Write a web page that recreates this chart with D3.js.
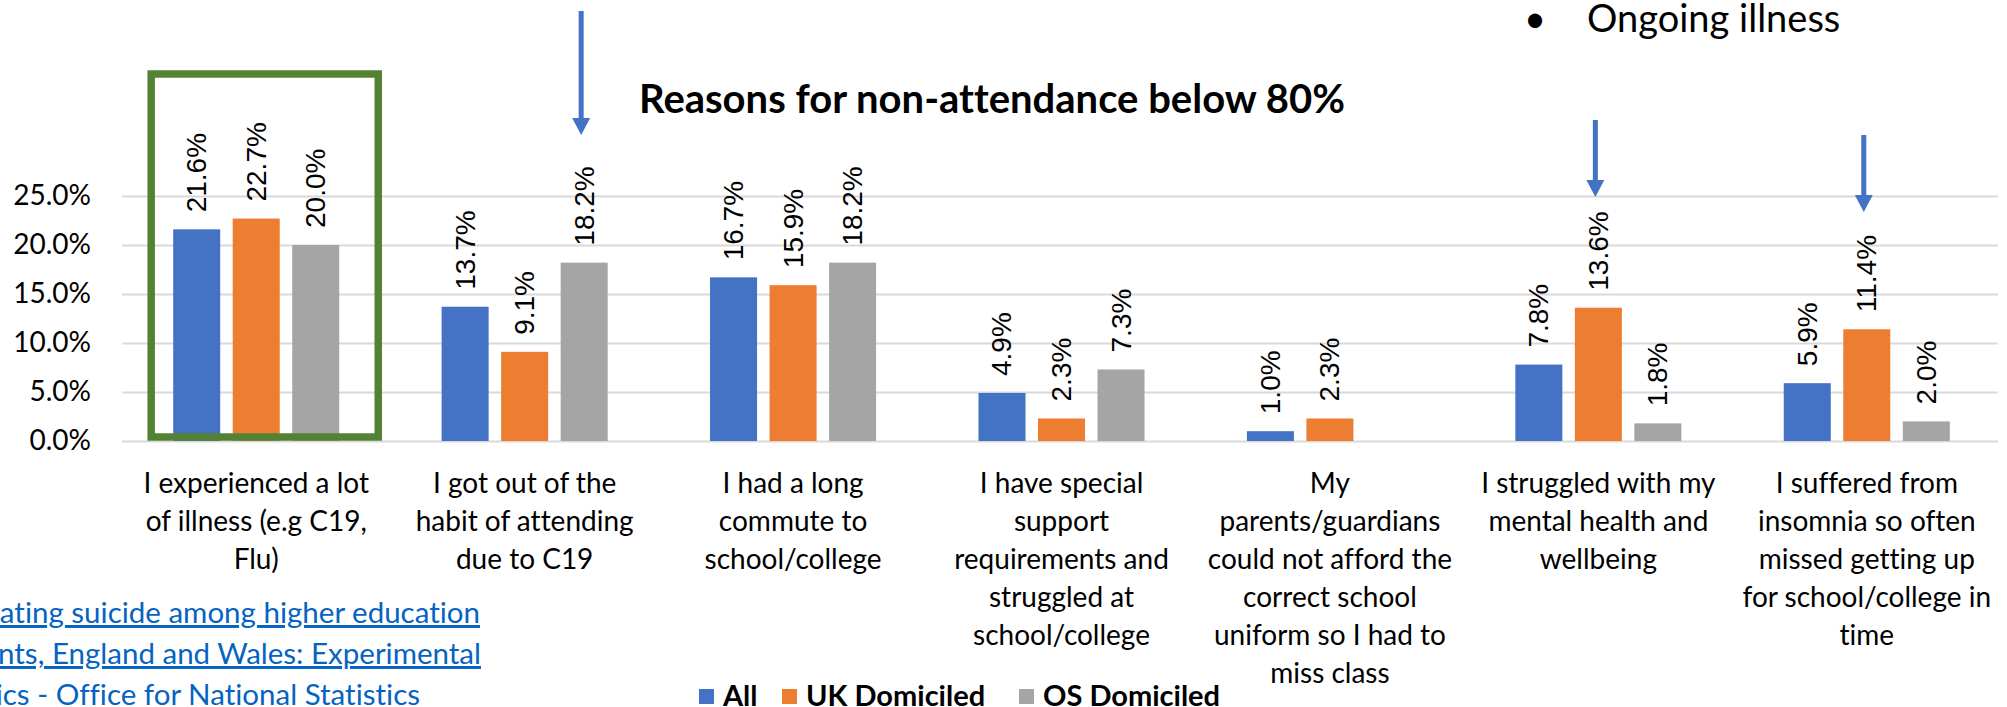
<!DOCTYPE html>
<html>
<head>
<meta charset="utf-8">
<script src="https://cdn.jsdelivr.net/npm/d3@7"></script>
<style>
  html, body { margin: 0; padding: 0; background: #fff; overflow: hidden; }
  svg { display: block; }
  text { font-variant-ligatures: none; }
</style>
</head>
<body>
<svg id="chart" width="2007" height="707"></svg>
<script>
// category labels, already wrapped the way the slide shows them
const categories = [
  ["I experienced a lot", "of illness (e.g C19,", "Flu)"],
  ["I got out of the", "habit of attending", "due to C19"],
  ["I had a long", "commute to", "school/college"],
  ["I have special", "support", "requirements and", "struggled at", "school/college"],
  ["My", "parents/guardians", "could not afford the", "correct school", "uniform so I had to", "miss class"],
  ["I struggled with my", "mental health and", "wellbeing"],
  ["I suffered from", "insomnia so often", "missed getting up", "for school/college in", "time"],
];
const seriesNames = ["All", "UK Domiciled", "OS Domiciled"];
const allValues = [21.6, 13.7, 16.7, 4.9, 1.0, 7.8, 5.9];
const ukValues = [22.7, 9.1, 15.9, 2.3, 2.3, 13.6, 11.4];
const osValues = [20.0, 18.2, 18.2, 7.3, null, 1.8, 2.0];
const yTicks = [0, 5, 10, 15, 20, 25];
const title = "Reasons for non-attendance below 80%";
const sourceLines = [
  "Estimating suicide among higher education",
  "students, England and Wales: Experimental",
  "Statistics - Office for National Statistics",
];
// arrows sit over these bars: [category, series]
const arrowBars = [[1, 2], [5, 1], [6, 1]];

const colors = ["#4472C4", "#ED7D31", "#A5A5A5"];
const series = [allValues, ukValues, osValues];
const calibri = "Lato, 'Open Sans', sans-serif";
const arial = "'Liberation Sans', Arial, sans-serif";

const svg = d3.select("#chart");
const x0 = d3.scaleBand().domain(d3.range(categories.length)).range([122, 2001]);
const x1 = d3.scaleBand()
  .domain(d3.range(series.length))
  .range([0, x0.bandwidth()])
  .paddingInner(0.21)
  .paddingOuter(0.86);
const y = d3.scaleLinear().domain([0, 25]).range([441, 196]);
const barX = (c, s) => x0(c) + x1(s);

// y axis + gridlines
const yAxis = svg.append("g")
  .attr("transform", `translate(${x0.range()[0]},0)`)
  .call(d3.axisLeft(y)
    .tickValues(yTicks)
    .tickSizeInner(-(1998 - x0.range()[0]))
    .tickSizeOuter(0)
    .tickPadding(31)
    .tickFormat((d) => d.toFixed(1) + "%"));
yAxis.select(".domain").remove();
yAxis.selectAll("line").attr("stroke", "#D9D9D9").attr("stroke-width", 2);
yAxis.selectAll("text")
  .attr("font-family", calibri)
  .attr("font-size", 28)
  .attr("fill", "#000");

// bars
const rows = categories.map((_, c) => series.map((vals, s) => ({ c, s, v: vals[c] })));
const groups = svg.append("g").selectAll("g")
  .data(rows)
  .join("g");

groups.selectAll("rect")
  .data((d) => d.filter((e) => e.v != null))
  .join("rect")
  .attr("x", (d) => barX(d.c, d.s))
  .attr("y", (d) => y(d.v))
  .attr("width", x1.bandwidth())
  .attr("height", (d) => y(0) - y(d.v))
  .attr("fill", (d) => colors[d.s]);

groups.selectAll("text")
  .data((d) => d.filter((e) => e.v != null))
  .join("text")
  .attr("transform", (d) => `translate(${barX(d.c, d.s) + x1.bandwidth() / 2},${y(d.v) - 17}) rotate(-90)`)
  .attr("text-anchor", "start")
  .attr("dominant-baseline", "central")
  .attr("font-family", arial)
  .attr("font-size", 28)
  .attr("fill", "#000")
  .text((d) => d.v.toFixed(1) + "%");

// category labels
const xAxis = svg.append("g")
  .attr("transform", `translate(0,${y(0)})`)
  .call(d3.axisBottom(x0).tickSize(0).tickFormat(""));
xAxis.select(".domain").remove();
xAxis.selectAll(".tick text").remove();
xAxis.selectAll(".tick")
  .append("text")
  .attr("text-anchor", "middle")
  .attr("font-family", calibri)
  .attr("font-size", 28)
  .attr("fill", "#000")
  .selectAll("tspan")
  .data((d) => categories[d])
  .join("tspan")
  .attr("x", 0)
  .attr("y", (_, i) => 52 + i * 38)
  .text((d) => d);

// green highlight box around the first group
svg.append("rect")
  .attr("x", barX(0, 0) - 22)
  .attr("y", y(25) - 122)
  .attr("width", barX(0, 2) + x1.bandwidth() + 39 - (barX(0, 0) - 22))
  .attr("height", y(0) - 4 - (y(25) - 122))
  .attr("fill", "none")
  .attr("stroke", "#548235")
  .attr("stroke-width", 7.5);

// blue arrows
const arrowSpans = [[11, 135], [120, 197], [135, 212]];
const arrows = svg.append("g").selectAll("g")
  .data(arrowBars.map(([c, s], i) => ({ cx: barX(c, s) + x1.bandwidth() / 2 - 3, top: arrowSpans[i][0], tip: arrowSpans[i][1] })))
  .join("g");
arrows.append("line")
  .attr("x1", (d) => d.cx).attr("x2", (d) => d.cx)
  .attr("y1", (d) => d.top).attr("y2", (d) => d.tip - 14)
  .attr("stroke", "#4472C4")
  .attr("stroke-width", 5);
arrows.append("path")
  .attr("d", (d) => `M${d.cx - 9},${d.tip - 17}L${d.cx + 9},${d.tip - 17}L${d.cx},${d.tip}Z`)
  .attr("fill", "#4472C4");

// title
svg.append("text")
  .attr("x", 992)
  .attr("y", 113)
  .attr("text-anchor", "middle")
  .attr("font-family", calibri)
  .attr("font-weight", 700)
  .attr("font-size", 40)
  .attr("fill", "#000")
  .text(title);

// bullet note top right
svg.append("text")
  .attr("x", 1535).attr("y", 32)
  .attr("text-anchor", "middle")
  .attr("font-family", calibri)
  .attr("font-size", 38)
  .text("•");
svg.append("text")
  .attr("x", 1587).attr("y", 32)
  .attr("font-family", calibri)
  .attr("font-size", 38)
  .attr("fill", "#000")
  .text("Ongoing illness");

// source link, cut off at the left edge
svg.append("g").selectAll("text")
  .data(sourceLines)
  .join("text")
  .attr("x", (_, i) => [480, 481, 420][i])
  .attr("y", (_, i) => 623 + i * 41)
  .attr("text-anchor", "end")
  .attr("font-family", calibri)
  .attr("font-size", 29.5)
  .attr("fill", "#0563C1")
  .attr("text-decoration", "underline")
  .text((d) => d);

// legend
const legendX = [699, 782, 1019];
const legend = svg.append("g").selectAll("g")
  .data(seriesNames)
  .join("g")
  .attr("transform", (_, i) => `translate(${legendX[i]},0)`);
legend.append("rect")
  .attr("y", 689).attr("width", 15).attr("height", 15)
  .attr("fill", (_, i) => colors[i]);
legend.append("text")
  .attr("x", 24).attr("y", 706)
  .attr("font-family", calibri)
  .attr("font-weight", 700)
  .attr("font-size", 29)
  .attr("fill", "#000")
  .text((d) => d);
</script>
</body>
</html>
